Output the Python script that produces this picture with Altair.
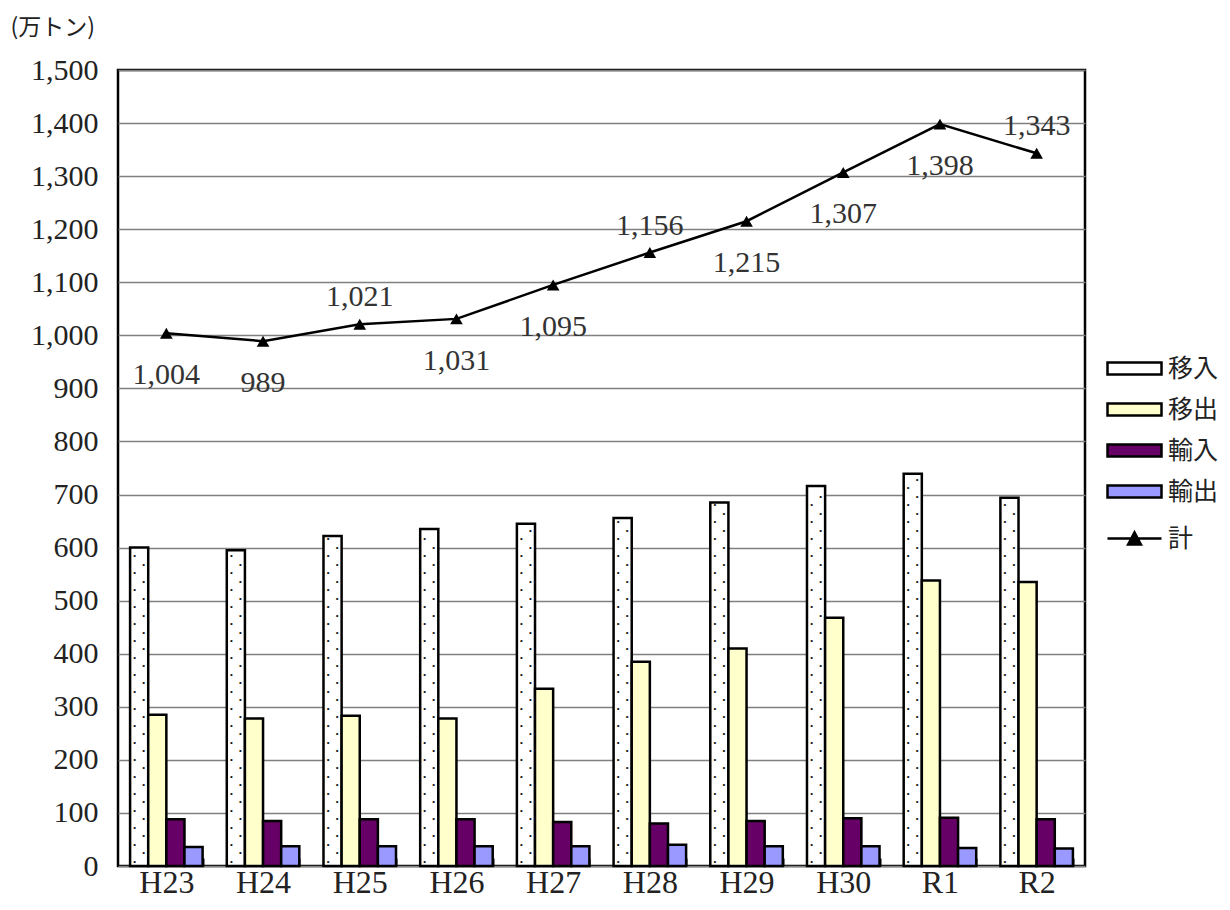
import altair as alt
import pandas as pd

years = ["H23", "H24", "H25", "H26", "H27", "H28", "H29", "H30", "R1", "R2"]
series = ["移入", "移出", "輸入", "輸出"]
imo_in = [600, 595, 622, 635, 645, 656, 685, 716, 739, 694]     # 移入
imo_out = [285, 278, 283, 278, 334, 385, 410, 468, 538, 535]    # 移出
yu_in = [88, 85, 88, 88, 83, 80, 85, 90, 91, 88]                # 輸入
yu_out = [36, 37, 37, 37, 37, 40, 37, 37, 34, 33]               # 輸出
total = [1004, 989, 1021, 1031, 1095, 1156, 1215, 1307, 1398, 1343]  # 計
label_pos = ["below", "below", "above", "below", "below", "above",
             "below", "below", "below", "above"]
colors = ["#FFFFFF", "#FFFFCC", "#660066", "#9999FF"]

rows = []
for s, vals in zip(series, [imo_in, imo_out, yu_in, yu_out]):
    for y, v in zip(years, vals):
        rows.append({"year": y, "series": s, "value": v})
bar_df = pd.DataFrame(rows)
tot_df = pd.DataFrame({"year": years, "value": total, "kind": ["計"] * len(years),
                       "pos": label_pos})

SERIF = "Liberation Serif"
CJK = "Noto Sans CJK JP"

yaxis = alt.Axis(title="(万トン)", titleAngle=0, titleAlign="left",
                 titleBaseline="top", titleX=-108, titleY=-54,
                 titleFont=CJK, titleFontSize=23, titleFontWeight="normal",
                 titleColor="#222",
                 tickCount=15, format=",d",
                 labelFont=SERIF, labelFontSize=30, labelColor="#222",
                 labelPadding=20, ticks=False, domain=False,
                 grid=True, gridColor="#808080", gridWidth=1.6)
yscale = alt.Scale(domain=[0, 1500], nice=False, zero=True)


def yenc(field):
    return alt.Y(field, scale=yscale, axis=yaxis)


xenc = alt.X("year:N", sort=years,
             scale=alt.Scale(paddingInner=0.25, paddingOuter=0.125),
             axis=alt.Axis(title=None, labelAngle=0, labelFont=SERIF, labelFontSize=32,
                           labelColor="#222", domain=False, ticks=True, tickSize=8,
                           tickColor="black", tickWidth=2, tickBand="extent",
                           offset=-8, labelPadding=1))
xoff = alt.XOffset("series:N", sort=series, scale=alt.Scale(paddingInner=0))

bar_legend = alt.Legend(title=None, orient="none", legendX=995, legendY=277,
                        symbolType="M-1.35,-0.3H1.35V0.3H-1.35Z", symbolSize=1600,
                        symbolStrokeColor="black", symbolStrokeWidth=2.5,
                        labelFont=CJK, labelFontSize=25, labelColor="#222",
                        labelOffset=12, rowPadding=6)

bars = alt.Chart(bar_df).mark_bar(stroke="black", strokeWidth=2.5).encode(
    x=xenc,
    xOffset=xoff,
    y=yenc("value:Q"),
    fill=alt.Fill("series:N", sort=series,
                  scale=alt.Scale(domain=series, range=colors), legend=bar_legend),
)

dots_base = alt.Chart(bar_df).transform_filter(
    alt.datum.series == "移入"
).transform_calculate(
    dots="sequence(8, datum.value - 4, 16)"
).transform_flatten(["dots"], as_=["value"]).transform_calculate(
    col="floor((datum.value - 8) / 16 + 0.5) % 2"
)
dots_l = dots_base.transform_filter(alt.datum.col == 0).mark_text(
    text="•", fontSize=8, dx=-4.5, color="#111", baseline="middle"
).encode(x=xenc, xOffset=xoff, y=yenc("value:Q"))
dots_r = dots_base.transform_filter(alt.datum.col == 1).mark_text(
    text="•", fontSize=8, dx=4.5, color="#111", baseline="middle"
).encode(x=xenc, xOffset=xoff, y=yenc("value:Q"))

line_legend = alt.Legend(title=None, orient="none", legendX=995, legendY=447,
                         symbolType="M-1.35,0H1.35M-0.32,0.3L0,-0.3L0.32,0.3Z",
                         symbolSize=1600, symbolStrokeColor="black",
                         symbolFillColor="black", symbolStrokeWidth=2.5,
                         labelFont=CJK, labelFontSize=25, labelColor="#222",
                         labelOffset=12)

line = alt.Chart(tot_df).mark_line(strokeWidth=2.5).encode(
    x=xenc,
    y=yenc("value:Q"),
    stroke=alt.Stroke("kind:N", scale=alt.Scale(domain=["計"], range=["black"]),
                      legend=line_legend),
)
points = alt.Chart(tot_df).mark_point(shape="triangle-up", filled=True, color="black",
                                      size=160, opacity=1).encode(
    x=xenc, y=yenc("value:Q"))

lab_above = alt.Chart(tot_df).transform_filter(alt.datum.pos == "above").mark_text(
    font=SERIF, fontSize=30, color="#333", dy=-27, baseline="middle"
).encode(x=xenc, y=yenc("value:Q"), text=alt.Text("value:Q", format=","))
lab_below = alt.Chart(tot_df).transform_filter(alt.datum.pos == "below").mark_text(
    font=SERIF, fontSize=30, color="#333", dy=42, baseline="middle"
).encode(x=xenc, y=yenc("value:Q"), text=alt.Text("value:Q", format=","))

chart = alt.layer(bars, dots_l, dots_r, line, points, lab_above, lab_below).properties(
    width=967, height=796,
    autosize=alt.AutoSizeParams(type="none"),
    padding={"left": 118, "top": 70, "right": 145, "bottom": 44},
    background="white",
).configure_view(
    stroke="black", strokeWidth=2.5
)

chart.save("out.html", embed_options={"renderer": "svg", "actions": False})
